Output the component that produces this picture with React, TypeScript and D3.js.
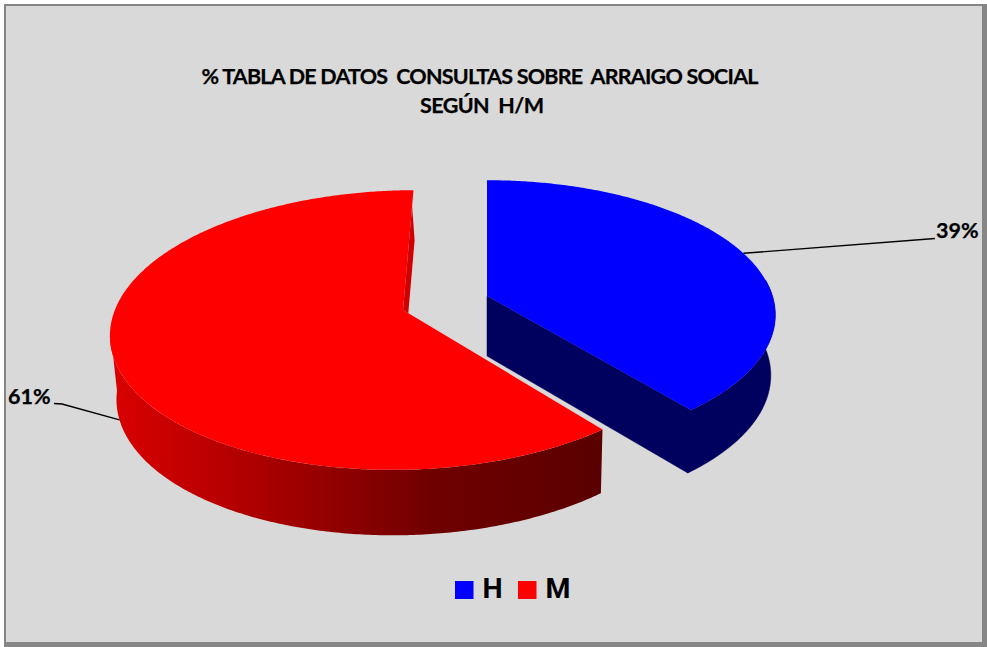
import { line, pie, range, select } from 'd3';
import React, { useEffect, useRef } from 'react';

const categories = ['H', 'M'];
const values = [39, 61];
const percentLabels = ['39%', '61%'];
const titleLines = ['% TABLA DE DATOS  CONSULTAS SOBRE  ARRAIGO SOCIAL', 'SEGÚN  H/M'];

const W = 987;
const H = 647;
const TOP_COLORS = ['#0000ff', '#ff0000'];
const TEXT_FONT = 'Lato, "Open Sans", sans-serif';

type Rim = { cx: number; cy: number; rx: number; ry: number; k: number; m: number; shear: number };

// each slice is pulled out by hand, so it has its own top and bottom ellipse
const topRims: Rim[] = [
  { cx: 487, cy: 296, rx: 285.5, ry: 132, k: 0.14, m: 0, shear: 0 },
  { cx: 403, cy: 310, rx: 291, ry: 137, k: 0.143, m: 0.01, shear: -12 },
];
const bottomRims: Rim[] = [
  { cx: 487, cy: 356, rx: 281, ry: 135.5, k: 0.14, m: 0, shear: 0 },
  { cx: 403.5, cy: 371, rx: 284, ry: 138, k: 0.16, m: 0.01, shear: -12 },
];

// perspective view of a circle, angle 0 at the back, clockwise
function project(rim: Rim, angle: number, r = 1): [number, number] {
  const u = Math.sin(angle) * r;
  const v = -Math.cos(angle) * r;
  const w = 1 - rim.k * v - rim.m * u;
  return [rim.cx + (rim.rx * u + rim.shear * v) / w, rim.cy + (rim.ry * v) / w];
}

function arcPoints(rim: Rim, a0: number, a1: number) {
  const n = Math.max(2, Math.ceil(Math.abs(a1 - a0) / 0.01));
  return range(0, n + 1).map(i => project(rim, a0 + ((a1 - a0) * i) / n));
}

const path = line();

export default function App() {
  const svgRef = useRef<SVGSVGElement>(null);

  useEffect(() => {
    renderChart(svgRef.current);
  }, []);

  return (
    <svg
      ref={svgRef}
      width={W}
      height={H}
      style={{ position: 'absolute', left: 0, top: 0, display: 'block' }}
    />
  );
}

function renderChart(node: SVGSVGElement | null) {
  const svg = select(node);
  svg.selectAll('*').remove();

  const defs = svg.append('defs');
  const grad = defs
    .append('linearGradient')
    .attr('id', 'redSide')
    .attr('gradientUnits', 'userSpaceOnUse')
    .attr('x1', 115)
    .attr('x2', 600)
    .attr('y1', 0)
    .attr('y2', 0);
  [
    [0, '#d80000'],
    [0.22, '#b80000'],
    [0.65, '#700000'],
    [1, '#5a0000'],
  ].forEach(([o, c]) => grad.append('stop').attr('offset', o).attr('stop-color', c));

  svg.append('rect').attr('width', W).attr('height', H).attr('fill', '#ffffff');
  svg.append('rect').attr('x', 4).attr('y', 4).attr('width', W - 4).attr('height', H - 4).attr('fill', '#868686');
  svg.append('rect').attr('x', 6).attr('y', 6).attr('width', 976).attr('height', 636).attr('fill', '#d9d9d9');

  const slices = pie<number>().sort(null)(values);
  const [blue, red] = slices;

  // blue walls, one path so no seam shows between the two faces
  const blueCut = [
    project(topRims[0], 0, 0),
    project(topRims[0], blue.endAngle),
    project(bottomRims[0], blue.endAngle),
    project(bottomRims[0], 0, 0),
  ] as [number, number][];
  const blueOuter = [
    ...arcPoints(topRims[0], 1.45, blue.endAngle),
    ...arcPoints(bottomRims[0], blue.endAngle, 1.45),
  ];
  svg
    .append('path')
    .attr('d', path(blueCut) + 'Z' + path(blueOuter.reverse()) + 'Z')
    .attr('fill', '#00005f')
    .attr('fill-rule', 'nonzero')
    .attr('stroke', '#00005f')
    .attr('stroke-width', 0.5);

  // red outer wall, the gradient runs along x
  const redTurn = 4.57;
  const redOuter = [
    ...arcPoints(topRims[1], red.startAngle, redTurn),
    ...arcPoints(bottomRims[1], redTurn, red.startAngle),
  ];
  svg.append('path').attr('d', path(redOuter) + 'Z').attr('fill', 'url(#redSide)');

  // top faces
  slices.forEach((s, i) => {
    const pts = [project(topRims[i], 0, 0), ...arcPoints(topRims[i], s.startAngle, s.endAngle)];
    svg.append('path').attr('d', path(pts) + 'Z').attr('fill', TOP_COLORS[i]);
  });

  // sliver of the inner red wall next to the gap
  const bulge = project(topRims[1], red.endAngle, 0.55);
  const sliver = [
    project(topRims[1], red.endAngle, 0.85),
    [bulge[0] + 5.5, bulge[1]],
    project(topRims[1], red.startAngle, 0.03),
    project(topRims[1], 0, 0),
  ] as [number, number][];
  svg.append('path').attr('d', path(sliver) + 'Z').attr('fill', '#d00000');

  // leader lines
  const blueMid = (blue.startAngle + blue.endAngle) / 2;
  const redMid = (red.startAngle + red.endAngle) / 2;
  svg
    .append('path')
    .attr('d', path([project(topRims[0], blueMid), [935, 238.5]]))
    .attr('fill', 'none')
    .attr('stroke', '#000')
    .attr('stroke-width', 1.4);
  svg
    .append('path')
    .attr('d', path([[54, 403.5], [62, 404], project(bottomRims[1], redMid)]))
    .attr('fill', 'none')
    .attr('stroke', '#000')
    .attr('stroke-width', 1.4);

  const text = (x: number, y: number, s: string, size: number, anchor = 'start', len?: number) => {
    const t = svg
      .append('text')
      .attr('x', x)
      .attr('y', y)
      .attr('font-family', TEXT_FONT)
      .attr('font-weight', 700)
      .attr('font-size', size)
      .attr('text-anchor', anchor)
      .attr('fill', '#000')
      .attr('stroke', '#000')
      .attr('stroke-width', 0.25)
      .style('white-space', 'pre')
      .text(s);
    if (len) t.attr('textLength', len);
    return t;
  };

  text(480, 84, titleLines[0], 21.5, 'middle', 557);
  text(482, 113, titleLines[1], 21.5, 'middle', 124);
  text(936, 238, percentLabels[0], 21.5);
  text(8, 404, percentLabels[1], 21.5);

  // legend
  const legendX = [455, 518];
  const legendTextX = [482.5, 545.5];
  categories.forEach((c, i) => {
    svg
      .append('rect')
      .attr('x', legendX[i])
      .attr('y', 581)
      .attr('width', 18.5)
      .attr('height', 18)
      .attr('fill', TOP_COLORS[i]);
    svg
      .append('text')
      .attr('x', legendTextX[i])
      .attr('y', 598)
      .attr('font-family', 'Roboto, "Liberation Sans", sans-serif')
      .attr('font-weight', 700)
      .attr('font-size', 28.5)
      .attr('fill', '#000')
      .text(c);
  });
}
